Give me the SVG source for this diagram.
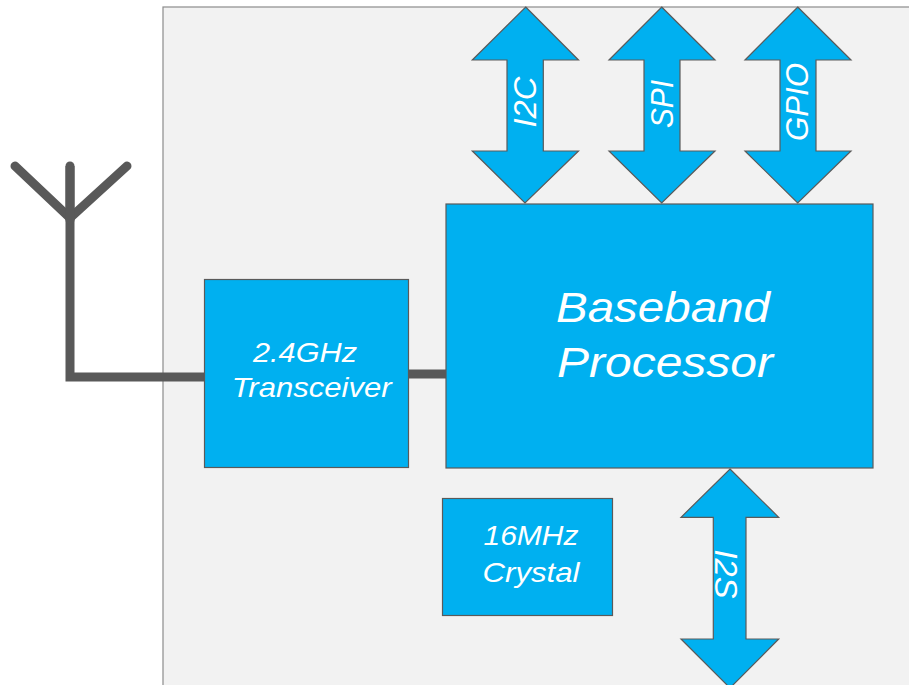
<svg xmlns="http://www.w3.org/2000/svg" width="909" height="685" viewBox="0 0 909 685">
<style>
.blk{fill:#00B0F0;stroke:#5a5a5a;stroke-width:1.2}
.t{font-family:"Liberation Sans",Arial,sans-serif;font-style:italic;fill:#fff;text-anchor:middle}
.wire{fill:none;stroke:#595959;stroke-width:9}
</style>
<rect x="163" y="7" width="760" height="690" fill="#F2F2F2" stroke="#8c8c8c" stroke-width="1.2"/>
<g id="connectors">
<path class="wire" d="M70 166 L70 377 L205 377" stroke-linejoin="miter"/>
<path class="wire" d="M15 166 L70 218 L127 166" stroke-linecap="round" stroke-linejoin="round"/>
<line class="wire" x1="70" y1="166" x2="70" y2="220" stroke-linecap="round"/>
<line class="wire" x1="408" y1="374" x2="447" y2="374" stroke-width="10"/>
</g>
<g id="i2c">
<polygon class="blk" points="525.7,7 578.5,60 543.3,60 543.3,151 578.5,151 525,203 472.3,151 507,151 507,60 472.3,60"/>
<text class="t" font-size="32" textLength="51" lengthAdjust="spacingAndGlyphs" transform="translate(536,102) rotate(-90)">I2C</text>
</g>
<g id="spi">
<polygon class="blk" points="661.7,7 715,60 680,60 680,151 715,151 661.7,203 609,151 644,151 644,60 609,60"/>
<text class="t" font-size="32" textLength="48" lengthAdjust="spacingAndGlyphs" transform="translate(673,104) rotate(-90)">SPI</text>
</g>
<g id="gpio">
<polygon class="blk" points="797.7,7 851,60 816,60 816,151 851,151 797.7,203 745,151 780,151 780,60 745,60"/>
<text class="t" font-size="32" textLength="78" lengthAdjust="spacingAndGlyphs" transform="translate(808,102) rotate(-90)">GPIO</text>
</g>
<g id="baseband">
<rect class="blk" x="446" y="204" width="427" height="264"/>
<text class="t" font-size="42" textLength="214" lengthAdjust="spacingAndGlyphs" x="663" y="322">Baseband</text>
<text class="t" font-size="42" textLength="216" lengthAdjust="spacingAndGlyphs" x="665" y="377">Processor</text>
</g>
<g id="transceiver">
<rect class="blk" x="204.5" y="279.5" width="204" height="188"/>
<text class="t" font-size="27.5" textLength="104" lengthAdjust="spacingAndGlyphs" x="305" y="362">2.4GHz</text>
<text class="t" font-size="27.5" textLength="160" lengthAdjust="spacingAndGlyphs" x="311.7" y="397">Transceiver</text>
</g>
<g id="crystal">
<rect class="blk" x="442.5" y="498.5" width="170" height="117"/>
<text class="t" font-size="28" textLength="95" lengthAdjust="spacingAndGlyphs" x="531" y="545">16MHz</text>
<text class="t" font-size="28" textLength="97" lengthAdjust="spacingAndGlyphs" x="531" y="582">Crystal</text>
</g>
<g id="i2s">
<polygon class="blk" points="730,469 778.7,517.3 746,517.3 746,639 778.7,639 730,688 681,639 713.3,639 713.3,517.3 681,517.3"/>
<text class="t" font-size="32" textLength="49" lengthAdjust="spacingAndGlyphs" transform="translate(715,574) rotate(90)">I2S</text>
</g>
</svg>
